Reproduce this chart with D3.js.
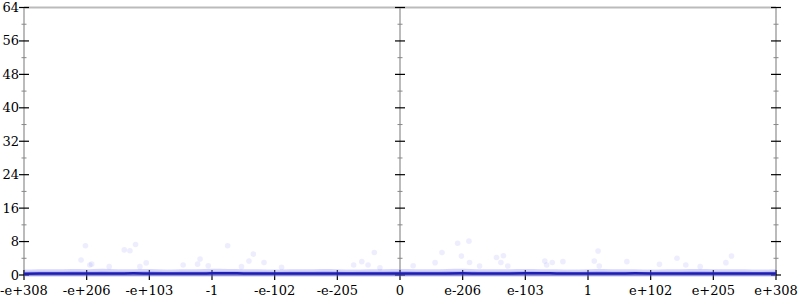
<!DOCTYPE html>
<html><head><meta charset="utf-8">
<script src="https://cdn.jsdelivr.net/npm/d3@7"></script>
<style>body{margin:0;background:#fff}svg{display:block}</style>
</head><body>
<svg id="c" width="800" height="300"></svg>
<script>
// ---- data ----
const xTickValues = [-6,-5,-4,-3,-2,-1,0,1,2,3,4,5,6];
const xTickLabels = ["-e+308","-e+206","-e+103","-1","-e-102","-e-205","0","e-206","e-103","1","e+102","e+205","e+308"];
const yTickValues = [0,8,16,24,32,40,48,56,64];
const yMinorValues = [4,12,20,28,36,44,52,60];
// sample positions (in tick units) for the mean line and band
const samplePos = [-6,-5.75,-5.5,-5.25,-5,-4.75,-4.5,-4.25,-4,-3.75,-3.5,-3.25,-3,-2.75,-2.5,-2.25,-2,-1.75,-1.5,-1.25,-1,-0.75,-0.5,-0.25,0,
  0.25,0.5,0.75,1,1.25,1.5,1.75,2,2.25,2.5,2.75,3,3.25,3.5,3.75,4,4.25,4.5,4.75,5,5.25,5.5,5.75,6];
const meanErr = [0.32,0.35,0.33,0.36,0.38,0.34,0.36,0.40,0.36,0.33,0.37,0.35,0.39,0.43,0.37,0.34,0.35,0.38,0.33,0.35,0.36,0.34,0.35,0.37,0.38,
  0.36,0.35,0.37,0.40,0.36,0.34,0.38,0.41,0.43,0.37,0.35,0.36,0.33,0.35,0.39,0.37,0.35,0.36,0.38,0.35,0.34,0.37,0.35,0.34];
const bandHi = [1.3,1.4,1.35,1.45,1.4,1.5,1.35,1.4,1.45,1.3,1.4,1.35,1.5,1.45,1.4,1.35,1.3,1.4,1.35,1.45,1.4,1.3,1.35,1.4,1.45,
  1.4,1.35,1.45,1.5,1.4,1.35,1.4,1.45,1.4,1.35,1.3,1.4,1.45,1.35,1.4,1.3,1.35,1.4,1.45,1.4,1.35,1.4,1.3,1.35];
const outlierX = [-5.02,-5.09,-4.95,-4.92,-4.64,-4.40,-4.31,-4.22,-4.05,-4.15,-3.46,-3.23,-3.19,-3.06,-2.75,-2.53,-2.41,-2.34,-2.17,-1.89,-0.74,-0.61,-0.51,-0.41,-0.32,
  0.21,0.56,0.67,0.92,0.98,1.10,1.11,1.27,1.54,1.61,1.65,1.72,2.31,2.34,2.43,2.60,3.10,3.16,3.18,3.62,4.14,4.42,4.56,4.79,5.20,5.29];
const outlierY = [7.0,3.6,2.4,2.6,2.0,6.0,5.8,7.3,2.9,2.0,2.4,2.6,3.8,2.2,7.0,2.0,3.35,5.0,3.0,1.85,2.4,3.2,2.4,5.4,1.75,
  2.2,2.95,5.4,7.6,4.55,8.1,3.0,2.15,4.2,3.0,4.6,2.15,3.35,2.4,3.0,3.2,3.35,5.75,2.15,3.2,2.55,4.0,2.4,2.0,2.95,4.55];

// ---- layout ----
const svg = d3.select("#c");
const L = 24, R = 776, T = 7.5, B = 275;
const x = d3.scaleLinear().domain([-6,6]).range([L,R]);
const y = d3.scaleLinear().domain([0,64]).range([B,T]);
const font = "DejaVu Serif";

// frame lines
const gFrame = svg.append("g");
gFrame.append("line").attr("x1",L).attr("x2",R).attr("y1",T).attr("y2",T).attr("stroke","#bbb").attr("stroke-width",2);
gFrame.append("line").attr("x1",L).attr("x2",R).attr("y1",B).attr("y2",B).attr("stroke","#bbb").attr("stroke-width",2);
[-6,0,6].forEach(v=>{
  gFrame.append("line").attr("x1",x(v)).attr("x2",x(v)).attr("y1",T).attr("y2",B).attr("stroke","#bbb").attr("stroke-width",2);
});

// y ticks on three verticals
[-6,0,6].forEach(v=>{
  const g = svg.append("g");
  g.selectAll("line.maj").data(yTickValues).join("line")
    .attr("x1",x(v)-5).attr("x2",x(v)+5).attr("y1",d=>y(d)).attr("y2",d=>y(d))
    .attr("stroke","#000").attr("stroke-width",1.2);
  g.selectAll("line.min").data(yMinorValues).join("line")
    .attr("x1",x(v)-2.5).attr("x2",x(v)+2.5).attr("y1",d=>y(d)).attr("y2",d=>y(d))
    .attr("stroke","#888").attr("stroke-width",1);
});
// y labels
svg.append("g").selectAll("text").data(yTickValues).join("text")
  .attr("x",L-5).attr("y",d=>y(d)).attr("dy","0.35em").attr("text-anchor","end")
  .attr("font-family",font).attr("font-size",13).attr("fill","#000").text(d=>d);

// x ticks & labels
svg.append("g").selectAll("line").data(xTickValues).join("line")
  .attr("x1",d=>x(d)).attr("x2",d=>x(d)).attr("y1",B-5).attr("y2",B+5)
  .attr("stroke","#000").attr("stroke-width",1.2);
svg.append("g").selectAll("text").data(xTickValues).join("text")
  .attr("x",d=>x(d)).attr("y",295).attr("text-anchor","middle")
  .attr("font-family",font).attr("font-size",13).attr("fill","#000")
  .text((d,i)=>xTickLabels[i]);

// data
const gData = svg.append("g");
const band = samplePos.map((p,i)=>({p, hi:bandHi[i], m:meanErr[i]}));
gData.append("path").datum(band)
  .attr("d", d3.area().x(d=>x(d.p)).y0(y(-0.4)).y1(d=>y(d.hi)).curve(d3.curveMonotoneX))
  .attr("fill","rgb(120,120,240)").attr("fill-opacity",0.3);
gData.append("path").datum(band)
  .attr("d", d3.area().x(d=>x(d.p)).y0(y(-0.2)).y1(d=>y(d.hi*0.6)).curve(d3.curveMonotoneX))
  .attr("fill","rgb(90,90,230)").attr("fill-opacity",0.3);
gData.selectAll("circle").data(outlierX.map((v,i)=>[v,outlierY[i]])).join("circle")
  .attr("cx",d=>x(d[0])).attr("cy",d=>y(d[1])).attr("r",2.8)
  .attr("fill","rgb(60,60,240)").attr("fill-opacity",0.09);
gData.append("path").datum(band)
  .attr("d", d3.line().x(d=>x(d.p)).y(d=>y(d.m)).curve(d3.curveMonotoneX))
  .attr("fill","none").attr("stroke","rgb(30,30,180)").attr("stroke-width",2.5);
</script>
</body></html>
